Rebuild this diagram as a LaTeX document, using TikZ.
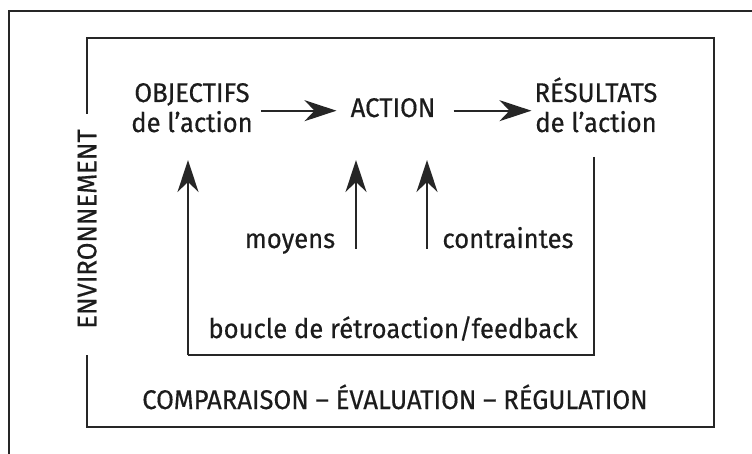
\documentclass[tikz,border=0pt]{standalone}
\usepackage{fontspec}
\setmainfont[FakeStretch=0.95,FakeBold=0.4]{Fira Sans}
\usetikzlibrary{arrows.meta}
\definecolor{ink}{HTML}{1C1C1C}
\definecolor{rule}{HTML}{262626}
\begin{document}
\begin{tikzpicture}[x=1pt,y=-1pt,
  lbl/.style={inner sep=0pt,text=ink,font=\fontsize{27}{30}\selectfont},
  frame/.style={draw=rule,line width=2.1pt},
  arr/.style={draw=rule,line width=1.8pt,
    -{Stealth[length=32pt,width=21pt,inset=10pt]}},
  plain/.style={draw=rule,line width=1.8pt}]
\useasboundingbox (0,0) rectangle (752,454);
\fill[white] (0,0) rectangle (752,454);

% outer frame (open to the right and bottom)
\coordinate (oTR) at (752,11);
\coordinate (oTL) at (9,11);
\coordinate (oBL) at (9,454);
\draw[frame] (oTR) -- (oTL) -- (oBL);

% environment label, reading upwards, on the inner frame's left side
\node[lbl,rotate=90] (env) at (87,229) {ENVIRONNEMENT};

% inner frame, broken around the label
\coordinate (gapT) at (87,114);
\coordinate (gapB) at (87,355);
\coordinate (iTL) at (87,38);
\coordinate (iTR) at (714,38);
\coordinate (iBR) at (714,427);
\coordinate (iBL) at (87,427);
\draw[frame] (gapT) -- (iTL) -- (iTR) -- (iBR) -- (iBL) -- (gapB);

% main chain
\node[lbl,align=center,anchor=base] (obj) at (192,132) {OBJECTIFS\\de l’action};
\node[lbl,anchor=base] (act) at (393,117) {ACTION};
\node[lbl,align=center,anchor=base] (res) at (596,132) {RÉSULTATS\\de l’action};

\draw[arr,shorten <=8pt,shorten >=14pt] ([yshift=-3pt]obj.east |- act.west) -- ([yshift=-3pt]act.west);
\draw[arr,shorten <=18pt,shorten >=3pt] ([yshift=-3pt]act.east) -- ([yshift=-3pt]res.west |- act.east);

% inputs to the action
\coordinate (moyB) at (356,249);
\coordinate (moyT) at (356,160);
\coordinate (conB) at (427,249);
\coordinate (conT) at (427,160);
\draw[arr] (moyB) -- (moyT);
\draw[arr] (conB) -- (conT);
\node[lbl,anchor=base] (moy) at (290,248) {moyens};
\node[lbl,anchor=base] (con) at (508,248) {contraintes};

% feedback loop
\coordinate (fbR) at (594,157);
\coordinate (fbL) at (188,355);
\coordinate (fbT) at (188,160);
\draw[plain] (fbR) |- (fbL);
\draw[arr] (fbL) -- (fbT);
\node[lbl,anchor=base] (fb) at (393,338) {boucle de rétroaction/feedback};

\node[lbl,anchor=base] (cmp) at (395,409) {COMPARAISON – ÉVALUATION – RÉGULATION};
\end{tikzpicture}
\end{document}
